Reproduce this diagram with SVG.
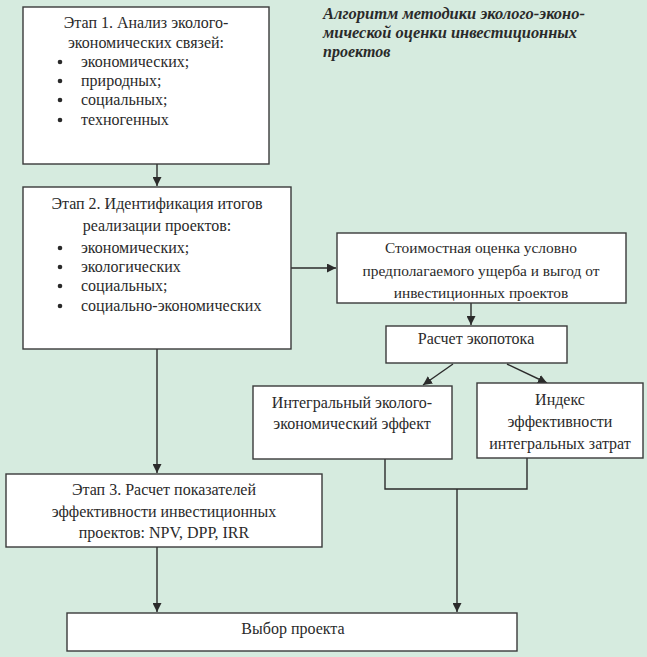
<svg xmlns="http://www.w3.org/2000/svg" width="647" height="657" viewBox="0 0 647 657">
<defs>
<marker id="ah" viewBox="0 0 10 10" refX="10" refY="5" markerWidth="9" markerHeight="9" markerUnits="userSpaceOnUse" orient="auto">
<path d="M0,0 L10,5 L0,10 z" fill="#2b2b2b"/>
</marker>
</defs>
<rect x="0" y="0" width="647" height="657" fill="#d6ebdf"/>
<g id="title" font-family="Liberation Serif" font-size="16" font-style="italic" font-weight="bold" fill="#2a2a2a">
<text x="323" y="19" textLength="262" lengthAdjust="spacingAndGlyphs">Алгоритм методики эколого-эконо-</text>
<text x="323" y="38" textLength="254" lengthAdjust="spacingAndGlyphs">мической оценки инвестиционных</text>
<text x="323" y="57">проектов</text>
</g>
<g id="connectors" fill="none" stroke="#2b2b2b" stroke-width="1.4">
<path d="M157,164 L157,186" marker-end="url(#ah)"/>
<path d="M157,349 L157,473" marker-end="url(#ah)"/>
<path d="M291,268 L336,268" marker-end="url(#ah)"/>
<path d="M471,303 L471,325" marker-end="url(#ah)"/>
<path d="M453,364 L423,385" marker-end="url(#ah)"/>
<path d="M507,364 L547,383" marker-end="url(#ah)"/>
<path d="M385,459 L385,489 L527,489 L527,458"/>
<path d="M457,489 L457,612" marker-end="url(#ah)"/>
<path d="M157,547 L157,612" marker-end="url(#ah)"/>
</g>
<g font-family="Liberation Serif" font-size="16" fill="#2a2a2a">
<g id="stage1">
<rect x="23" y="7" width="246" height="157" fill="#fff" stroke="#3a3a3a" stroke-width="1.4"/>
<text x="146" y="28" text-anchor="middle">Этап 1. Анализ эколого-</text>
<text x="146" y="48" text-anchor="middle">экономических связей:</text>
<circle cx="60" cy="62" r="2.3"/><text x="81" y="67">экономических;</text>
<circle cx="60" cy="81" r="2.3"/><text x="81" y="86">природных;</text>
<circle cx="60" cy="100" r="2.3"/><text x="81" y="105">социальных;</text>
<circle cx="60" cy="120" r="2.3"/><text x="81" y="125">техногенных</text>
</g>
<g id="stage2">
<rect x="23" y="187" width="268" height="162" fill="#fff" stroke="#3a3a3a" stroke-width="1.4"/>
<text x="157" y="209" text-anchor="middle">Этап 2. Идентификация итогов</text>
<text x="157" y="231" text-anchor="middle">реализации проектов:</text>
<circle cx="60" cy="248" r="2.3"/><text x="81" y="253">экономических;</text>
<circle cx="60" cy="267" r="2.3"/><text x="81" y="272">экологических</text>
<circle cx="60" cy="286" r="2.3"/><text x="81" y="291">социальных;</text>
<circle cx="60" cy="306" r="2.3"/><text x="81" y="311">социально-экономических</text>
</g>
<g id="cost" font-size="15.4">
<rect x="337" y="233" width="289" height="70" fill="#fff" stroke="#3a3a3a" stroke-width="1.4"/>
<text x="481" y="253" text-anchor="middle">Стоимостная оценка условно</text>
<text x="481" y="276" text-anchor="middle">предполагаемого ущерба и выгод от</text>
<text x="481" y="298" text-anchor="middle">инвестиционных проектов</text>
</g>
<g id="ecoflow">
<rect x="386" y="326" width="181" height="37" fill="#fff" stroke="#3a3a3a" stroke-width="1.4"/>
<text x="476" y="344" text-anchor="middle">Расчет экопотока</text>
</g>
<g id="integral">
<rect x="253" y="386" width="199" height="73" fill="#fff" stroke="#3a3a3a" stroke-width="1.4"/>
<text x="352" y="408" text-anchor="middle">Интегральный эколого-</text>
<text x="352" y="429" text-anchor="middle">экономический эффект</text>
</g>
<g id="index">
<rect x="477" y="383" width="166" height="75" fill="#fff" stroke="#3a3a3a" stroke-width="1.4"/>
<text x="560" y="405" text-anchor="middle">Индекс</text>
<text x="560" y="427" text-anchor="middle">эффективности</text>
<text x="560" y="449" text-anchor="middle">интегральных затрат</text>
</g>
<g id="stage3">
<rect x="6" y="474" width="316" height="73" fill="#fff" stroke="#3a3a3a" stroke-width="1.4"/>
<text x="164" y="495" text-anchor="middle">Этап 3. Расчет показателей</text>
<text x="164" y="517" text-anchor="middle">эффективности инвестиционных</text>
<text x="164" y="538" text-anchor="middle">проектов: NPV, DPP, IRR</text>
</g>
<g id="choice">
<rect x="67" y="613" width="450" height="38" fill="#fff" stroke="#3a3a3a" stroke-width="1.4"/>
<text x="293" y="634" text-anchor="middle">Выбор проекта</text>
</g>
</g>
</svg>
